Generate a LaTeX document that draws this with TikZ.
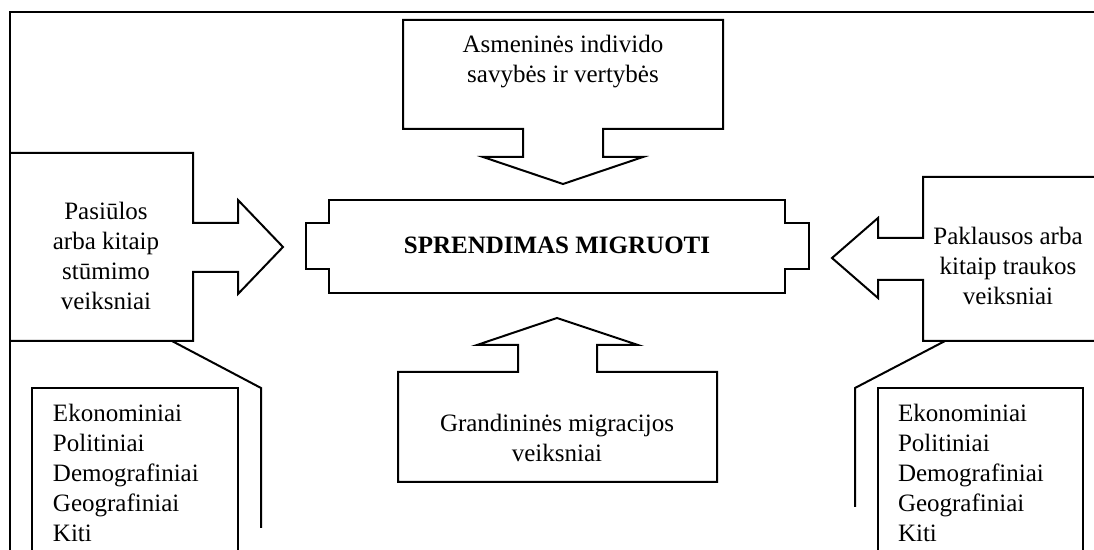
\documentclass[tikz,border=0pt]{standalone}
\usepackage{fontspec}
\setmainfont{Liberation Serif}
\usetikzlibrary{positioning}

\begin{document}
\begin{tikzpicture}[x=0.5pt, y=-0.5pt, line width=1pt,
  txt/.style={font=\fontsize{12.5}{15}\selectfont, align=center, inner sep=0pt},
  lst/.style={font=\fontsize{12.5}{15}\selectfont, align=left, inner sep=0pt, anchor=north west}]
\useasboundingbox (0,0) rectangle (1094,550);
\clip (0,0) rectangle (1094,550);
% outer frame
\draw (10,560) -- (10,12) -- (1100,12);
% individual qualities, arrow down
\draw (403,20) -- (723,20) -- (723,129) -- (603,129) -- (603,157) -- (643,157)
  -- (563,184) -- (483,157) -- (523,157) -- (523,129) -- (403,129) -- cycle;
\node [txt] (asm) at (563,62) {Asmeninės individo\\savybės ir vertybės};
% decision
\draw (329,200) -- (785,200) -- (785,223) -- (809,223) -- (809,269) -- (785,269)
  -- (785,293) -- (329,293) -- (329,269) -- (306,269) -- (306,223) -- (329,223) -- cycle;
\node [txt, font=\fontsize{12.5}{15}\selectfont\bfseries] (spr) at (557,245) {SPRENDIMAS MIGRUOTI};
% chain migration, arrow up
\draw (398,482) -- (398,372) -- (518,372) -- (518,345) -- (477,345) -- (557,318)
  -- (638,345) -- (597,345) -- (597,372) -- (717,372) -- (717,482) -- cycle;
\node [txt] (grand) at (557,438) {Grandininės migracijos\\veiksniai};
% push factors, arrow right
\draw (10,153) -- (193,153) -- (193,223) -- (238,223) -- (238,200) -- (283,247)
  -- (238,294) -- (238,272) -- (193,272) -- (193,341) -- (10,341);
\node [txt] (push) at (106,256) {Pasiūlos\\arba kitaip\\stūmimo\\veiksniai};
% pull factors, arrow left
\draw (1100,177) -- (923,177) -- (923,238) -- (878,238) -- (878,218) -- (832,258)
  -- (878,298) -- (878,280) -- (923,280) -- (923,341) -- (1100,341);
\node [txt] (pull) at (1008,266) {Paklausos arba\\kitaip traukos\\veiksniai};
% factor lists
\draw (32,560) -- (32,388) -- (238,388) -- (238,560);
\node [lst] (listL) at (52,403) {Ekonominiai\\Politiniai\\Demografiniai\\Geografiniai\\Kiti};
\draw (878,560) -- (878,388) -- (1083,388) -- (1083,560);
\node [lst] (listR) at (897,403) {Ekonominiai\\Politiniai\\Demografiniai\\Geografiniai\\Kiti};
% braces from boxes to lists
\coordinate (pushB) at (172,341);
\coordinate (pushK) at (261,388);
\coordinate (pushE) at (261,528);
\coordinate (pullB) at (945,341);
\coordinate (pullK) at (855,388);
\coordinate (pullE) at (855,507);
\draw (pushB) -- (pushK) -- (pushE);
\draw (pullB) -- (pullK) -- (pullE);
\end{tikzpicture}
\end{document}
